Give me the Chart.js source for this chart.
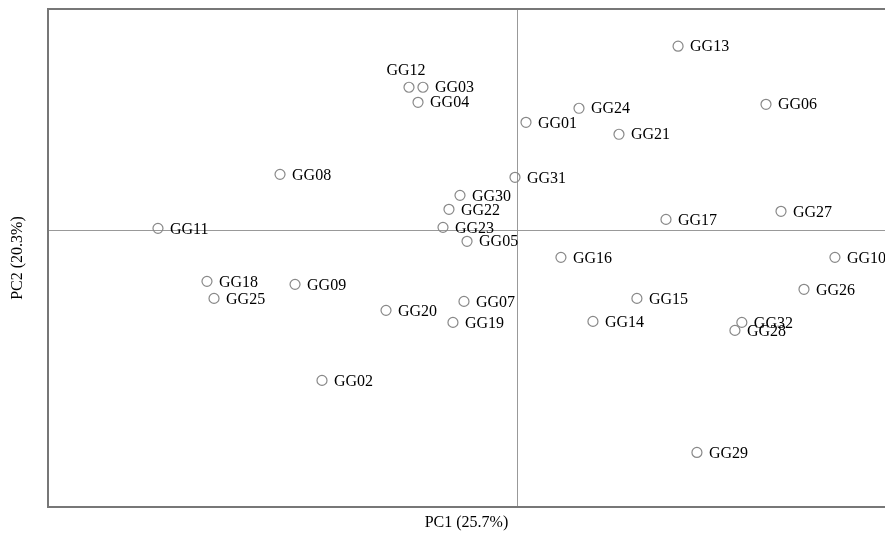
<!DOCTYPE html>
<html>
<head>
<meta charset="utf-8">
<script src="https://cdn.jsdelivr.net/npm/chart.js@4"></script>
<style>
  html, body { margin: 0; padding: 0; background: #fff; overflow: hidden; }
  #wrap { width: 885px; height: 535px; }
</style>
</head>
<body>
<div id="wrap"><canvas id="pcaChart" width="885" height="535"></canvas></div>
<script>
// sample names and PCA scores
const names = ['GG01','GG02','GG03','GG04','GG05','GG06','GG07','GG08','GG09','GG10',
               'GG11','GG12','GG13','GG14','GG15','GG16','GG17','GG18','GG19','GG20',
               'GG21','GG22','GG23','GG24','GG25','GG26','GG27','GG28','GG29','GG30',
               'GG31','GG32'];
const pc1 = [0.077,-1.663,-0.802,-0.844,-0.426,2.124,-0.452,-2.021,-1.893,2.712,
             -3.062,-0.921,1.374,0.648,1.023,0.375,1.271,-2.644,-0.546,-1.117,
             0.870,-0.580,-0.631,0.529,-2.584,2.448,2.252,1.859,1.535,-0.486,
             -0.017,1.918];
const pc2 = [0.976,-1.356,1.293,1.157,-0.099,1.139,-0.642,0.506,-0.488,-0.244,
             0.018,1.293,1.664,-0.823,-0.615,-0.244,0.099,-0.461,-0.832,-0.723,
             0.868,0.190,0.027,1.103,-0.615,-0.533,0.172,-0.904,-2.007,0.316,
             0.479,-0.832];
const xTitle = 'PC1 (25.7%)';
const yTitle = 'PC2 (20.3%)';
const labelAbove = ['GG12'];

const points = names.map((n, i) => ({x: pc1[i], y: pc2[i]}));
const serif = '"Liberation Serif", "DejaVu Serif", serif';

const frame = {
    id: 'frame',
    beforeDatasetsDraw(chart){
        const {ctx, chartArea: a, scales} = chart;
        ctx.save();
        // zero lines
        ctx.strokeStyle = '#999';
        ctx.lineWidth = 1;
        const x0 = Math.round(scales.x.getPixelForValue(0)) + 0.5;
        const y0 = Math.round(scales.y.getPixelForValue(0)) + 0.5;
        ctx.beginPath();
        ctx.moveTo(x0, a.top); ctx.lineTo(x0, a.bottom);
        ctx.moveTo(a.left, y0); ctx.lineTo(a.right, y0);
        ctx.stroke();
        // box (right side runs past the picture)
        ctx.strokeStyle = '#777';
        ctx.lineWidth = 2;
        ctx.beginPath();
        ctx.moveTo(a.right + 5, a.top); ctx.lineTo(a.left, a.top);
        ctx.lineTo(a.left, a.bottom); ctx.lineTo(a.right + 5, a.bottom);
        ctx.stroke();
        // axis titles
        ctx.fillStyle = '#000';
        ctx.font = '16px ' + serif;
        ctx.textAlign = 'center';
        ctx.textBaseline = 'middle';
        ctx.fillText(xTitle, (a.left + a.right) / 2, a.bottom + 16);
        ctx.translate(18, (a.top + a.bottom) / 2);
        ctx.rotate(-Math.PI / 2);
        ctx.fillText(yTitle, 0, 0);
        ctx.restore();
    },
    afterDatasetsDraw(chart){
        const {ctx} = chart;
        const meta = chart.getDatasetMeta(0);
        ctx.save();
        ctx.fillStyle = '#000';
        ctx.font = '16px ' + serif;
        ctx.textBaseline = 'middle';
        meta.data.forEach((pt, i) => {
            if(labelAbove.includes(names[i])){
                ctx.textAlign = 'center';
                ctx.fillText(names[i], pt.x - 3, pt.y - 16);
            } else {
                ctx.textAlign = 'left';
                ctx.fillText(names[i], pt.x + 12, pt.y + 1);
            }
        });
        ctx.restore();
    }
};

new Chart(document.getElementById('pcaChart'), {
    type: 'scatter',
    data: {
        datasets: [{
            data: points,
            pointRadius: 5,
            pointHoverRadius: 5,
            pointStyle: 'circle',
            borderColor: '#888',
            borderWidth: 1.2,
            backgroundColor: 'rgba(255,255,255,0)',
            clip: false
        }]
    },
    options: {
        responsive: false,
        animation: false,
        layout: { autoPadding: false, padding: { left: 48, top: 9, right: 0, bottom: 28 } },
        plugins: { legend: { display: false }, tooltip: { enabled: false } },
        scales: {
            x: { display: false, min: -4, max: 3.139 },
            y: { display: false, min: -2.5, max: 2 }
        }
    },
    plugins: [frame]
});
</script>
</body>
</html>
